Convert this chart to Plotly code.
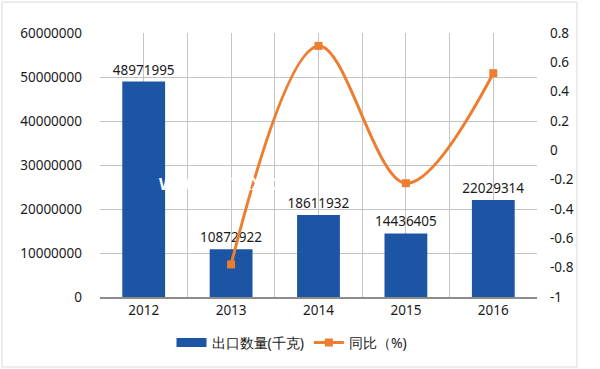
import plotly.graph_objects as go

years = [2012, 2013, 2014, 2015, 2016]
year_labels = ["2012", "2013", "2014", "2015", "2016"]
export_qty = [48971995, 10872922, 18611932, 14436405, 22029314]
yoy_years = [2013, 2014, 2015, 2016]
yoy = [-0.778, 0.712, -0.224, 0.526]

left_tickvals = [0, 10000000, 20000000, 30000000, 40000000, 50000000, 60000000]
left_ticktext = ["0", "10000000", "20000000", "30000000", "40000000", "50000000", "60000000"]
right_tickvals = [-1, -0.8, -0.6, -0.4, -0.2, 0, 0.2, 0.4, 0.6, 0.8]
right_ticktext = ["-1", "-0.8", "-0.6", "-0.4", "-0.2", "0", "0.2", "0.4", "0.6", "0.8"]

BLUE = "#1B55A3"
ORANGE = "#ED7D31"
FONT = "Noto Sans"

L, R, T, B = 100, 537, 33, 297
PW, PH = R - L, B - T


def px(x):
    return (x - L) / PW


def py(y):
    return (B - y) / PH


fig = go.Figure()
fig.add_trace(go.Bar(
    x=years, y=export_qty, name="出口数量(千克)", showlegend=False,
    marker=dict(color=BLUE, line=dict(width=0)), width=0.49,
    text=[str(v) for v in export_qty], textposition="outside",
    textfont=dict(size=13.5, color="#1a1a1a", family=FONT),
    constraintext="none", cliponaxis=False, yaxis="y",
))
# legend entry for bars (wide rectangle swatch)
fig.add_trace(go.Scatter(
    x=[None], y=[None], name="出口数量(千克)", mode="lines",
    line=dict(color=BLUE, width=9), yaxis="y",
))
fig.add_trace(go.Scatter(
    x=yoy_years, y=yoy, name="同比（%)", mode="lines+markers",
    line=dict(color=ORANGE, width=3, shape="spline", smoothing=1.0),
    marker=dict(symbol="square", size=8, color=ORANGE),
    yaxis="y2",
))

xt_vals = []
xt_text = []
for i, yv in enumerate(years):
    xt_vals.append(yv - 0.5)
    xt_text.append("")
    xt_vals.append(yv)
    xt_text.append(year_labels[i])
xt_vals.append(years[-1] + 0.5)
xt_text.append("")

fig.update_layout(
    width=600, height=369,
    margin=dict(l=L, r=600 - R, t=T, b=369 - B, autoexpand=False),
    paper_bgcolor="white", plot_bgcolor="white",
    font=dict(family=FONT, size=13, color="#1a1a1a"),
    showlegend=True,
    legend=dict(orientation="h", x=px(292), xanchor="center", y=py(343), yanchor="middle",
                font=dict(size=14, family=FONT, color="#1a1a1a"), itemwidth=30,
                tracegroupgap=0),
    xaxis=dict(range=[years[0] - 0.5, years[-1] + 0.5], tickvals=xt_vals, ticktext=xt_text,
               showgrid=True, gridcolor="#c4c4c4", gridwidth=1,
               showline=True, linecolor="#8c8c8c", linewidth=1.5, ticks="",
               zeroline=False, tickfont=dict(size=13.5)),
    yaxis=dict(range=[0, 60000000], tickvals=left_tickvals, ticktext=left_ticktext,
               showgrid=True, gridcolor="#c4c4c4", gridwidth=1, zeroline=False,
               showline=False, ticks="", ticklabelstandoff=17, tickfont=dict(size=13.5)),
    yaxis2=dict(range=[-1, 0.8], tickvals=right_tickvals, ticktext=right_ticktext,
                overlaying="y", side="right", showgrid=False, zeroline=False,
                showline=False, ticks="", ticklabelstandoff=12, tickfont=dict(size=13.5)),
    shapes=[dict(type="rect", xref="paper", yref="paper", x0=px(2), x1=px(577),
                 y0=py(367), y1=py(2), line=dict(color="#d9d9d9", width=1), layer="below")],
    annotations=[dict(text="<b>WWW.CHYXX.COM</b>", xref="paper", yref="paper",
                      x=px(157), y=py(184), xanchor="left", yanchor="middle",
                      showarrow=False, font=dict(color="white", size=16, family=FONT))],
)

fig.write_html("out.html", config={"displayModeBar": False},
               post_script="document.body.style.margin='0';document.body.style.padding='0';")
